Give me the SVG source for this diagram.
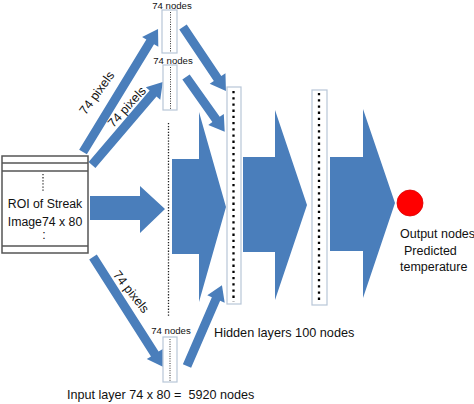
<svg xmlns="http://www.w3.org/2000/svg" width="474" height="404" viewBox="0 0 474 404">
<style>
.t{font-family:"Liberation Sans",Arial,sans-serif;fill:#111}
.arr{fill:#4A7EBB}
.sbox{fill:#fff;stroke:#b8c6d8;stroke-width:1.2}
.sdot{stroke:#333;stroke-width:1;stroke-dasharray:1 1.4}
.hdot{stroke:#000;stroke-width:2.3;stroke-dasharray:2.3 3.9}
</style>
<rect width="474" height="404" fill="#fff"/>
<g id="connectors">
<path class="arr" d="M0,-4.5H129V-9.5L144,0L129,9.5V4.5H0Z" transform="translate(83,152) rotate(-58.6)"/>
<path class="arr" d="M0,-4.5H94V-9.5L109,0L94,9.5V4.5H0Z" transform="translate(92,165) rotate(-49.5)"/>
<path class="arr" d="M0,-4.5H115V-9.5L130,0L115,9.5V4.5H0Z" transform="translate(93,257) rotate(57.5)"/>
<path class="arr" d="M0,-4.5H73V-9.5L88,0L73,9.5V4.5H0Z" transform="translate(187,366) rotate(-66.6)"/>
<path class="arr" d="M0,-4.5H62V-9.5L77,0L62,9.5V4.5H0Z" transform="translate(183,27) rotate(56.1)"/>
<path class="arr" d="M0,-4.5H52V-9.5L67,0L52,9.5V4.5H0Z" transform="translate(186,77) rotate(54.7)"/>
<polygon class="arr" points="90,196 140,196 140,186 165,209 140,233 140,220 90,220"/>
<polygon class="arr" points="172,159 199,159 199,112 226,207 199,302 199,254 172,254"/>
<polygon class="arr" points="243,157 275,157 275,110 307,205 275,300 275,252 243,252"/>
<polygon class="arr" points="330,157 363,157 363,109 395,203 363,298 363,251 330,251"/>
</g>
<g id="roi">
<rect x="2" y="156" width="86" height="97" fill="#fff" stroke="#555" stroke-width="1.5"/>
<line x1="2" y1="163" x2="88" y2="163" stroke="#555" stroke-width="1.3"/>
<line x1="2" y1="171" x2="88" y2="171" stroke="#555" stroke-width="1.3"/>
<line x1="2" y1="246" x2="88" y2="246" stroke="#555" stroke-width="1.3"/>
<line x1="43" y1="174" x2="43" y2="192" stroke="#333" stroke-width="1.3" stroke-dasharray="1.3 1.8"/>
<text class="t" x="45" y="208" font-size="12.3" text-anchor="middle">ROI of Streak</text>
<text class="t" x="45" y="226" font-size="12.3" text-anchor="middle">Image74 x 80</text>
<text class="t" x="44" y="239" font-size="12.3" text-anchor="middle">:</text>
</g>
<g id="in1">
<rect class="sbox" x="162" y="10" width="15" height="43"/>
<line class="sdot" x1="170.5" y1="12" x2="170.5" y2="52"/>
<text class="t" x="172" y="9" font-size="9.6" text-anchor="middle">74 nodes</text>
</g>
<g id="in2">
<rect class="sbox" x="163" y="65" width="14" height="45"/>
<line class="sdot" x1="170.5" y1="67" x2="170.5" y2="109"/>
<text class="t" x="173" y="64" font-size="9.6" text-anchor="middle">74 nodes</text>
</g>
<g id="inDots">
<line x1="168.5" y1="123" x2="168.5" y2="317" stroke="#222" stroke-width="1.3" stroke-dasharray="1.3 1.6"/>
</g>
<g id="in3">
<rect class="sbox" x="163" y="337" width="14" height="45"/>
<line class="sdot" x1="170" y1="339" x2="170" y2="381"/>
<text class="t" x="171" y="334" font-size="9.6" text-anchor="middle">74 nodes</text>
</g>
<g id="hidden1">
<rect class="sbox" x="227" y="87" width="14" height="217"/>
<line class="hdot" x1="233.5" y1="91" x2="233.5" y2="302"/>
</g>
<g id="hidden2">
<rect class="sbox" x="312" y="90" width="15" height="215"/>
<line class="hdot" x1="319" y1="93" x2="319" y2="303"/>
</g>
<g id="output">
<circle cx="410" cy="203" r="13" fill="#f00" stroke="#d00" stroke-width="0.8"/>
<text class="t" x="400" y="238" font-size="12.5">Output nodes</text>
<text class="t" x="404" y="255" font-size="12.5">Predicted</text>
<text class="t" x="400" y="271" font-size="12.5">temperature</text>
</g>
<g id="labels">
<text class="t" font-size="12.6" text-anchor="middle" transform="translate(97,93) rotate(-54)" y="4">74 pixels</text>
<text class="t" font-size="12.6" text-anchor="middle" transform="translate(127,107) rotate(-48)" y="4">74 pixels</text>
<text class="t" font-size="12.6" text-anchor="middle" transform="translate(131,292) rotate(52)" y="4">74 pixels</text>
<text class="t" x="214" y="337" font-size="12.7">Hidden layers 100 nodes</text>
<text class="t" x="67" y="399" font-size="12.6" xml:space="preserve">Input layer 74 x 80 =  5920 nodes</text>
</g>
</svg>
